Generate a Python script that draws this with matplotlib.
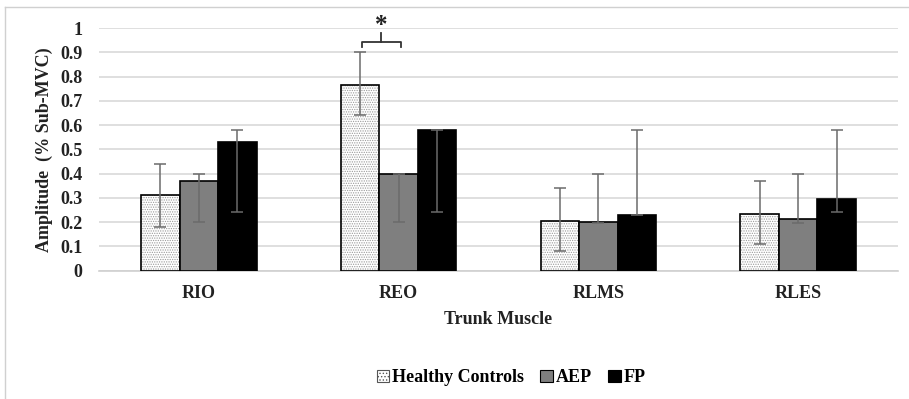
import numpy as np
import matplotlib
matplotlib.use("Agg")
import matplotlib.pyplot as plt
from matplotlib.patches import Patch

plt.rcParams['font.family'] = ['Liberation Serif', 'DejaVu Serif']
plt.rcParams['font.weight'] = 'bold'
plt.rcParams['hatch.linewidth'] = 0.6

# data
muscles = ['RIO', 'REO', 'RLMS', 'RLES']
groups = ['Healthy Controls', 'AEP', 'FP']
hc_mean = [0.31, 0.765, 0.205, 0.235]
hc_low = [0.18, 0.64, 0.08, 0.11]
hc_high = [0.44, 0.90, 0.34, 0.37]
aep_mean = [0.37, 0.40, 0.20, 0.215]
aep_low = [0.20, 0.20, 0.195, 0.195]
aep_high = [0.40, 0.40, 0.40, 0.40]
fp_mean = [0.53, 0.58, 0.23, 0.295]
fp_low = [0.24, 0.24, 0.23, 0.24]
fp_high = [0.58, 0.58, 0.58, 0.58]
yticks = [0, 0.1, 0.2, 0.3, 0.4, 0.5, 0.6, 0.7, 0.8, 0.9, 1]

fig = plt.figure(figsize=(9.09, 3.99), dpi=100)
ax = fig.add_axes([0.1089, 0.3216, 0.8790, 0.6082])

x = np.arange(len(muscles))
w = 0.193
offsets = [-w, 0, w]
means = [hc_mean, aep_mean, fp_mean]
lows = [hc_low, aep_low, fp_low]
highs = [hc_high, aep_high, fp_high]
err_col = '#6b6b6b'

for i, (m, lo, hi) in enumerate(zip(means, lows, highs)):
    m = np.array(m)
    xpos = x + offsets[i]
    if i == 0:
        # dotted fill drawn first, then black outline on top
        ax.bar(xpos, m, w, color='white', edgecolor='#9a9a9a', hatch='.......', lw=0, zorder=2)
        ax.bar(xpos, m, w, fill=False, edgecolor='black', lw=1.2, zorder=3)
    elif i == 1:
        ax.bar(xpos, m, w, color='#7f7f7f', edgecolor='black', lw=1.2, zorder=3)
    else:
        ax.bar(xpos, m, w, color='black', edgecolor='black', lw=1.2, zorder=3)
    yerr = np.clip(np.array([m - np.array(lo), np.array(hi) - m]), 0, None)
    ax.errorbar(xpos, m, yerr=yerr, fmt='none', ecolor=err_col, elinewidth=1.1,
                capsize=4, capthick=1.1, zorder=4)

# significance bracket over REO
bx0, bx1 = x[1] + offsets[0] + 0.01, x[1] + offsets[1] + 0.01
by = 0.941
ax.plot([bx0, bx0, bx1, bx1], [by - 0.018, by, by, by - 0.018], color='#333333', lw=1.3, zorder=5)
ax.plot([(bx0 + bx1) / 2] * 2, [by, by + 0.037], color='#333333', lw=1.3, zorder=5)
ax.text((bx0 + bx1) / 2, by + 0.02, '*', ha='center', va='bottom', fontsize=18, color='#222222')

ax.set_xlim(-0.5, len(muscles) - 0.5)
ax.set_ylim(0, 1)
ax.set_yticks(yticks)
ax.set_yticklabels([f'{v:g}' for v in yticks])
ax.set_xticks(x)
ax.set_xticklabels(muscles)
ax.tick_params(axis='both', length=0, labelsize=13, colors='#222222')
ax.tick_params(axis='x', pad=10)
ax.tick_params(axis='y', pad=12)
ax.yaxis.grid(True, color='#d9d9d9', lw=1.2, zorder=0)
ax.set_axisbelow(True)
for s in ['top', 'right', 'left']:
    ax.spines[s].set_visible(False)
ax.spines['bottom'].set_color('#d0d0d0')
ax.spines['bottom'].set_linewidth(1.2)

ax.set_ylabel('Amplitude  (% Sub-MVC)', fontsize=13, fontweight='bold', color='#222222', labelpad=5)
ax.set_xlabel('Trunk Muscle', fontsize=13, fontweight='bold', color='#222222', labelpad=7)

handles = [
    Patch(facecolor='white', edgecolor='#555555', hatch='.....', lw=0.8),
    Patch(facecolor='#7f7f7f', edgecolor='black', lw=0.8),
    Patch(facecolor='black', edgecolor='black', lw=0.8),
]
fig.legend(handles, groups, loc='center', bbox_to_anchor=(511 / 909, 0.053), ncol=3, frameon=False,
           fontsize=13, handlelength=0.7, handleheight=0.7, handletextpad=0.15,
           columnspacing=0.9)

# light frame around chart area
fig.add_artist(plt.Line2D([5 / 909, 5 / 909], [0, 1 - 7 / 399], transform=fig.transFigure,
                          color='#d0d0d0', lw=1))
fig.add_artist(plt.Line2D([5 / 909, 1], [1 - 7 / 399, 1 - 7 / 399], transform=fig.transFigure,
                          color='#d0d0d0', lw=1))

fig.savefig('out.png', dpi=100)
